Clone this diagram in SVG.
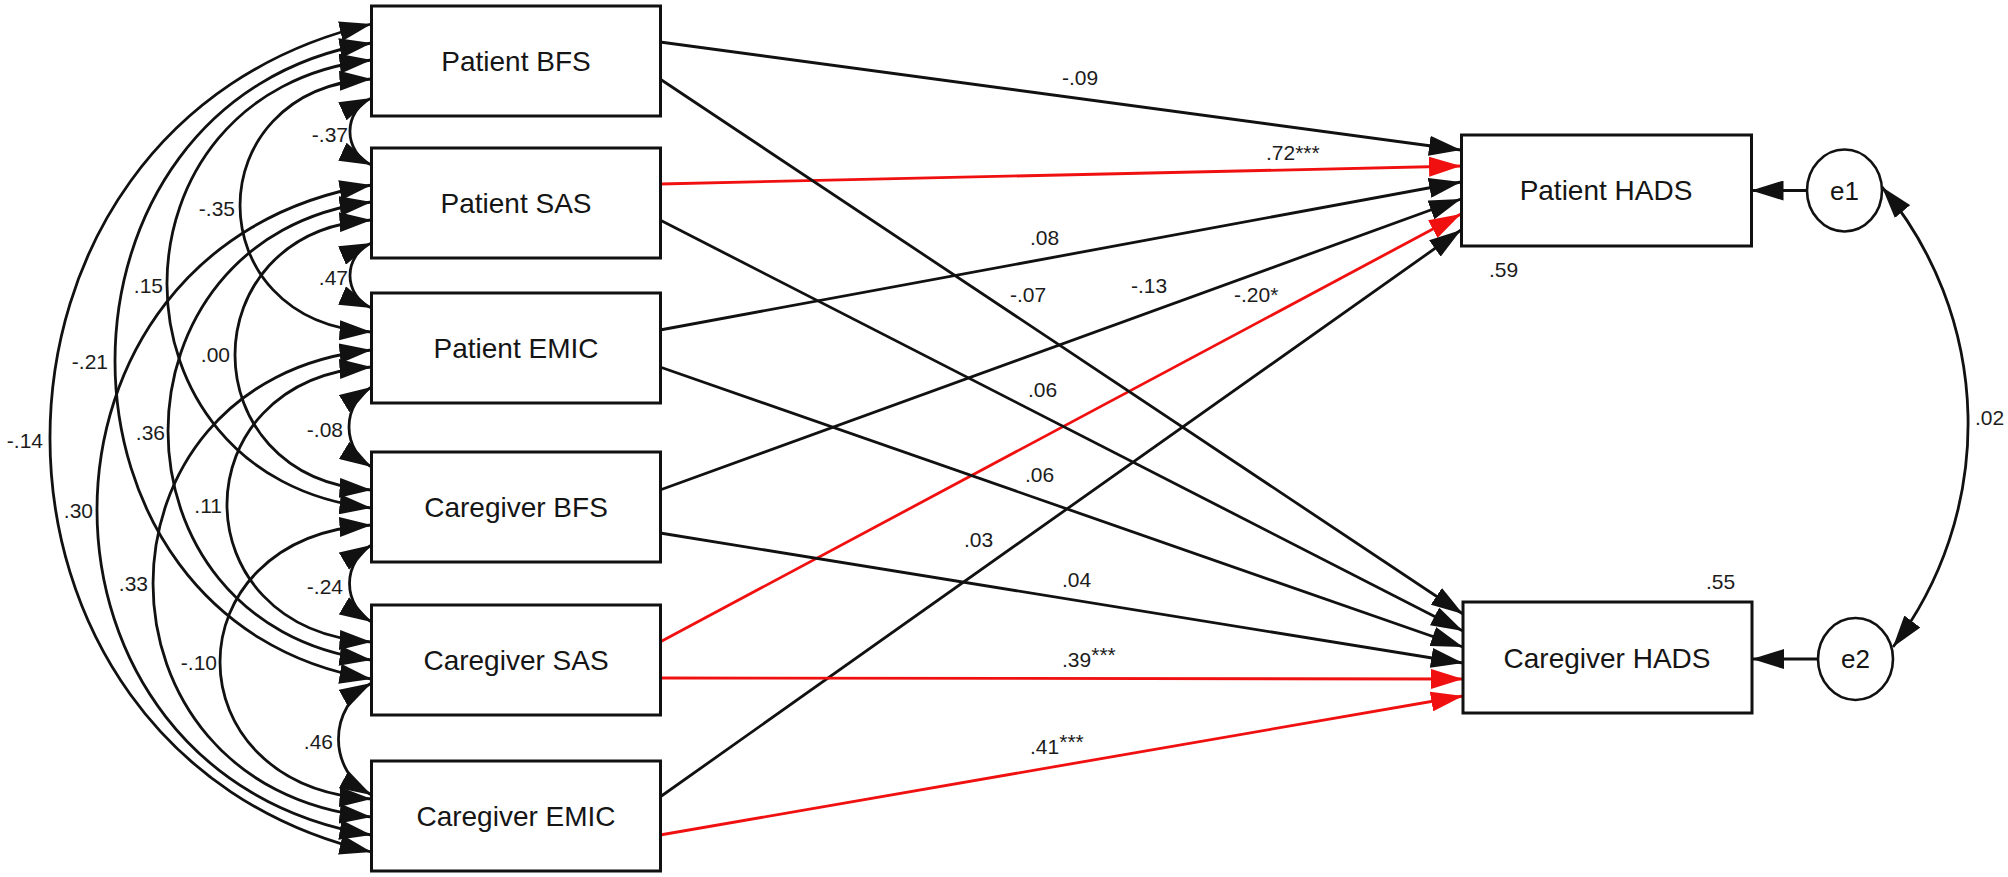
<svg xmlns="http://www.w3.org/2000/svg" width="2008" height="877" viewBox="0 0 2008 877">
<style>
.box{fill:#fff;stroke:#111;stroke-width:3}
.ell{fill:#fff;stroke:#111;stroke-width:2.6}
.lbl{font-family:"Liberation Sans",Arial,sans-serif;font-size:28px;fill:#151515;text-anchor:middle}
.elbl{font-family:"Liberation Sans",Arial,sans-serif;font-size:26px;fill:#151515;text-anchor:middle}
.num{font-family:"Liberation Sans",Arial,sans-serif;font-size:21px;fill:#1c1c1c}
.end{text-anchor:end}
.k{fill:none;stroke:#111;stroke-width:2.8;marker-end:url(#ak)}
.r{fill:none;stroke:#f01010;stroke-width:2.8;marker-end:url(#ar)}
.cov{fill:none;stroke:#111;stroke-width:2.8;marker-start:url(#ak2);marker-end:url(#ak2)}
</style>
<defs>
<marker id="ak" markerUnits="userSpaceOnUse" markerWidth="32" markerHeight="20" refX="32" refY="10" orient="auto"><path d="M0,0 L32,10 L0,20 z" fill="#111"/></marker>
<marker id="ar" markerUnits="userSpaceOnUse" markerWidth="32" markerHeight="20" refX="32" refY="10" orient="auto"><path d="M0,0 L32,10 L0,20 z" fill="#f01010"/></marker>
<marker id="ak2" markerUnits="userSpaceOnUse" markerWidth="32" markerHeight="20" refX="32" refY="10" orient="auto-start-reverse"><path d="M0,0 L32,10 L0,20 z" fill="#111"/></marker>
</defs>

<g id="connectors">
<!-- covariances, big arcs -->
<path class="cov" d="M371.5 24 C-57.2 124 -57.2 752 371.5 852"/>
<path class="cov" d="M371.5 43 C29.5 99 29.5 623 371.5 679"/>
<path class="cov" d="M371.5 60 C98.8 91 98.8 477 371.5 508"/>
<path class="cov" d="M371.5 79 C196.2 89 196.2 322 371.5 332"/>
<path class="cov" d="M371.5 185 C5.5 245 5.5 775 371.5 835"/>
<path class="cov" d="M371.5 202 C100.2 237 100.2 625 371.5 660"/>
<path class="cov" d="M371.5 220 C189.5 232 189.5 478 371.5 490"/>
<path class="cov" d="M371.5 350 C80.2 380 80.2 787 371.5 817"/>
<path class="cov" d="M371.5 367 C178.8 379 178.8 630 371.5 642"/>
<path class="cov" d="M371.5 525 C169.5 537 169.5 787 371.5 799"/>
<!-- covariances, adjacent -->
<path class="cov" d="M371.5 98 A36.8 36.8 0 0 0 371.5 165"/>
<path class="cov" d="M371.5 243 A35.3 35.3 0 0 0 371.5 308"/>
<path class="cov" d="M371.5 387 A46.8 46.8 0 0 0 371.5 467"/>
<path class="cov" d="M371.5 545 A44.7 44.7 0 0 0 371.5 622"/>
<path class="cov" d="M371.5 683 A64 64 0 0 0 371.5 795"/>
<!-- regressions to Patient HADS -->
<path class="k" d="M660 42 L1461 150"/>
<path class="r" d="M660 184 L1461 166"/>
<path class="k" d="M660 330 L1461 182"/>
<path class="k" d="M660 490 L1461 199"/>
<path class="r" d="M660 642 L1461 214"/>
<path class="k" d="M660 797 L1461 230"/>
<!-- regressions to Caregiver HADS -->
<path class="k" d="M660 79 L1463 614"/>
<path class="k" d="M660 220 L1463 631"/>
<path class="k" d="M660 367 L1463 647"/>
<path class="k" d="M660 533 L1463 663"/>
<path class="r" d="M660 678 L1463 679"/>
<path class="r" d="M660 835 L1463 696"/>
<!-- errors -->
<path class="k" d="M1807 190.5 L1751.5 190.5"/>
<path class="k" d="M1818 659 L1752 659"/>
<path class="cov" d="M1882 187 A369 369 0 0 1 1893 647"/>
</g>

<g id="labels">
<text class="num" x="1062" y="85">-.09</text>
<text class="num" x="1266" y="160">.72***</text>
<text class="num" x="1030" y="245">.08</text>
<text class="num" x="1010" y="302">-.07</text>
<text class="num" x="1131" y="293">-.13</text>
<text class="num" x="1234" y="302">-.20*</text>
<text class="num" x="1028" y="397">.06</text>
<text class="num" x="1025" y="482">.06</text>
<text class="num" x="964" y="547">.03</text>
<text class="num" x="1062" y="587">.04</text>
<text class="num" x="1062" y="667">.39<tspan dy="-5">***</tspan></text>
<text class="num" x="1030" y="754">.41<tspan dy="-5">***</tspan></text>
<text class="num" x="1489" y="277">.59</text>
<text class="num" x="1706" y="589">.55</text>
<text class="num" x="1975" y="425">.02</text>
<text class="num end" x="43" y="448">-.14</text>
<text class="num end" x="108" y="369">-.21</text>
<text class="num end" x="163" y="293">.15</text>
<text class="num end" x="235" y="216">-.35</text>
<text class="num end" x="348" y="142">-.37</text>
<text class="num end" x="348" y="285">.47</text>
<text class="num end" x="230" y="362">.00</text>
<text class="num end" x="165" y="440">.36</text>
<text class="num end" x="343" y="437">-.08</text>
<text class="num end" x="93" y="518">.30</text>
<text class="num end" x="222" y="513">.11</text>
<text class="num end" x="148" y="591">.33</text>
<text class="num end" x="343" y="594">-.24</text>
<text class="num end" x="217" y="670">-.10</text>
<text class="num end" x="333" y="749">.46</text>
</g>

<g id="patient-bfs"><rect class="box" x="371.5" y="6" width="289" height="110"/><text class="lbl" x="516" y="71">Patient BFS</text></g>
<g id="patient-sas"><rect class="box" x="371.5" y="148" width="289" height="110"/><text class="lbl" x="516" y="213">Patient SAS</text></g>
<g id="patient-emic"><rect class="box" x="371.5" y="293" width="289" height="110"/><text class="lbl" x="516" y="358">Patient EMIC</text></g>
<g id="caregiver-bfs"><rect class="box" x="371.5" y="452" width="289" height="110"/><text class="lbl" x="516" y="517">Caregiver BFS</text></g>
<g id="caregiver-sas"><rect class="box" x="371.5" y="605" width="289" height="110"/><text class="lbl" x="516" y="670">Caregiver SAS</text></g>
<g id="caregiver-emic"><rect class="box" x="371.5" y="761" width="289" height="110"/><text class="lbl" x="516" y="826">Caregiver EMIC</text></g>
<g id="patient-hads"><rect class="box" x="1461.5" y="135" width="290" height="111"/><text class="lbl" x="1606" y="200">Patient HADS</text></g>
<g id="caregiver-hads"><rect class="box" x="1463" y="602" width="289" height="111"/><text class="lbl" x="1607" y="668">Caregiver HADS</text></g>
<g id="e1"><ellipse class="ell" cx="1844.5" cy="190.5" rx="37.5" ry="41"/><text class="elbl" x="1844.5" y="200">e1</text></g>
<g id="e2"><ellipse class="ell" cx="1855.5" cy="659" rx="37.5" ry="41"/><text class="elbl" x="1855.5" y="668">e2</text></g>
</svg>
